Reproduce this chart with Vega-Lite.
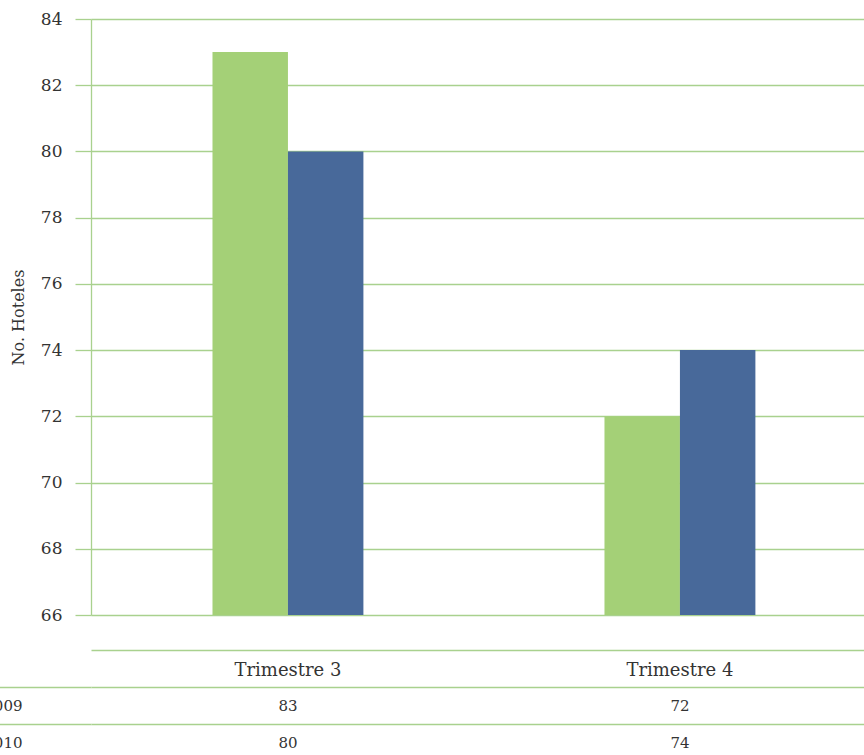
{
  "$schema": "https://vega.github.io/schema/vega-lite/v6.json",
  "width": 773,
  "height": 596,
  "autosize": {"type": "none"},
  "padding": {"left": 91, "top": 19, "right": 0, "bottom": 140},
  "background": "white",
  "config": {"view": {"stroke": null}, "font": "DejaVu Serif"},
  "data": {
    "values": [
      {"quarter": "Trimestre 3", "year": "2009", "value": 83},
      {"quarter": "Trimestre 3", "year": "2010", "value": 80},
      {"quarter": "Trimestre 4", "year": "2009", "value": 72},
      {"quarter": "Trimestre 4", "year": "2010", "value": 74}
    ]
  },
  "encoding": {
    "x": {
      "field": "quarter",
      "type": "nominal",
      "scale": {"domain": ["Trimestre 3", "Trimestre 4"], "paddingInner": 0.615, "paddingOuter": 0.2935, "align": 0.528},
      "axis": {
        "title": null,
        "orient": "bottom",
        "offset": 35,
        "domain": true,
        "domainColor": "#a9d18e",
        "domainWidth": 1.3,
        "ticks": false,
        "grid": false,
        "labelAngle": 0,
        "labelPadding": 11,
        "labelFontSize": 18,
        "labelColor": "#333333",
        "labelFont": "DejaVu Serif"
      }
    }
  },
  "layer": [
    {
      "mark": {"type": "bar"},
      "encoding": {
        "xOffset": {"field": "year", "type": "nominal", "scale": {"paddingInner": 0, "paddingOuter": 0}},
        "y": {
          "field": "value",
          "type": "quantitative",
          "scale": {"domain": [66, 84], "zero": false, "nice": false},
          "axis": {
            "title": "No. Hoteles",
            "values": [66, 68, 70, 72, 74, 76, 78, 80, 82, 84],
            "grid": true,
            "gridColor": "#a9d18e",
            "gridWidth": 1.3,
            "domainColor": "#a9d18e",
            "domainWidth": 1.3,
            "tickColor": "#a9d18e",
            "tickSize": 16,
            "tickWidth": 1.3,
            "labelPadding": 13,
            "labelFontSize": 17,
            "labelColor": "#333333",
            "labelFont": "DejaVu Serif",
            "titleFont": "DejaVu Serif",
            "titleFontSize": 16,
            "titleFontWeight": "normal",
            "titleColor": "#333333",
            "titleX": -73,
            "titleY": 298,
            "titleBaseline": "middle"
          }
        },
        "y2": {"datum": 66},
        "color": {
          "field": "year",
          "type": "nominal",
          "scale": {"domain": ["2009", "2010"], "range": ["#a4d077", "#48699a"]},
          "legend": null
        }
      }
    },
    {
      "mark": {"type": "text", "fontSize": 15, "color": "#333333", "font": "DejaVu Serif"},
      "encoding": {
        "y": {
          "field": "year",
          "type": "nominal",
          "scale": {"domain": ["2009", "2010"], "range": [668, 742], "paddingInner": 0, "paddingOuter": 0},
          "axis": {
            "orient": "left",
            "title": null,
            "domain": false,
            "grid": true,
            "gridColor": "#a9d18e",
            "gridWidth": 1.3,
            "tickBand": "extent",
            "tickSize": 100,
            "tickWidth": 1.3,
            "tickColor": "#a9d18e",
            "labelPadding": -31,
            "labelFontSize": 15,
            "labelColor": "#333333",
            "labelFont": "DejaVu Serif"
          }
        },
        "text": {"field": "value"}
      }
    }
  ],
  "resolve": {"scale": {"y": "independent"}, "axis": {"y": "independent"}}
}
